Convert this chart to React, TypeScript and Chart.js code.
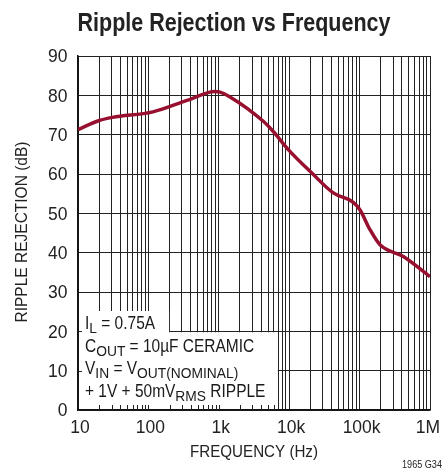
import React, { useEffect, useRef } from "react";
import { Chart, registerables } from "chart.js";

Chart.register(...registerables);

const freqs = [10, 20, 31, 116, 353, 883, 1040, 1443, 4290, 5940, 9710, 20800, 42300, 81300, 101000, 141000, 195000, 418000, 1000000];
const rejection = [71.3, 73.6, 74.4, 75.8, 78.7, 81.0, 80.8, 79.6, 73.4, 70.8, 66.2, 60.3, 55.2, 52.8, 50.9, 45.8, 42.0, 39.0, 33.9];
const xTickValues: number[] = [];
for (let d = 10; d < 1e6; d *= 10) for (let m = 1; m < 10; m++) xTickValues.push(d * m);
xTickValues.push(1e6);
const xTickLabels: Record<number, string> = { 10: "10", 100: "100", 1000: "1k", 10000: "10k", 100000: "100k", 1000000: "1M" };
const yTicks = [0, 10, 20, 30, 40, 50, 60, 70, 80, 90];

const FONT = "'Liberation Sans', Arial, sans-serif";
const TICK_SX = 0.92;
const NOTE_SX = 0.86;
const SUB_SX = 0.92;

type Part = [string, boolean];
const noteLines: Part[][] = [
  [["I", false], ["L", true], [" = 0.75A", false]],
  [["C", false], ["OUT", true], [" = 10µF CERAMIC", false]],
  [["V", false], ["IN", true], [" = V", false], ["OUT(NOMINAL)", true]],
  [["+ 1V + 50mV", false], ["RMS", true], [" RIPPLE", false]],
];

function narrowText(ctx: any, text: string, x: number, y: number, font: string, align: string, sx: number) {
  ctx.save();
  ctx.translate(x, y);
  ctx.scale(sx, 1);
  ctx.font = font;
  ctx.textAlign = align;
  ctx.fillText(text, 0, 0);
  ctx.restore();
}

function fitText(ctx: any, text: string, x: number, y: number, font: string, width: number) {
  ctx.save();
  ctx.font = font;
  const w = ctx.measureText(text).width;
  ctx.restore();
  narrowText(ctx, text, x, y, font, "center", width / w);
}

const decor = {
  id: "decor",
  beforeDatasetsDraw(chart: any) {
    const ctx = chart.ctx;
    const xs = chart.scales.x;
    const ys = chart.scales.y;
    const { left, bottom } = chart.chartArea;
    const x200 = xs.getPixelForValue(200);
    const x7k = xs.getPixelForValue(7000);
    const y20 = ys.getPixelForValue(20);
    const y10 = ys.getPixelForValue(10);
    ctx.save();
    ctx.fillStyle = "#fff";
    ctx.beginPath();
    ctx.moveTo(left + 1, 311);
    ctx.lineTo(x200 - 0.5, 311);
    ctx.lineTo(x200 - 0.5, y20 + 1);
    ctx.lineTo(x7k - 0.5, y20 + 1);
    ctx.lineTo(x7k - 0.5, bottom - 1);
    ctx.lineTo(left + 1, bottom - 1);
    ctx.closePath();
    ctx.fill();
    ctx.strokeStyle = "#222";
    ctx.lineWidth = 1;
    for (const v of xTickValues) {
      const px = Math.round(xs.getPixelForValue(v)) + 0.5;
      if (px > left + 2 && px < x7k - 1) {
        ctx.beginPath();
        ctx.moveTo(px, bottom);
        ctx.lineTo(px, bottom - 5);
        ctx.stroke();
      }
    }
    for (const yv of [y20, y10]) {
      const py = Math.round(yv) + 0.5;
      ctx.beginPath();
      ctx.moveTo(left, py);
      ctx.lineTo(left + 4, py);
      ctx.stroke();
    }
    ctx.fillStyle = "#1a1a1a";
    ctx.textBaseline = "alphabetic";
    const baselines = [329, 352, 374, 397];
    noteLines.forEach((parts, i) => {
      let x = 85;
      for (const [t, sub] of parts) {
        const font = sub ? `15px ${FONT}` : `18px ${FONT}`;
        const sx = sub ? SUB_SX : NOTE_SX;
        narrowText(ctx, t, x, baselines[i] + (sub ? 4 : 0), font, "left", sx);
        ctx.font = font;
        x += ctx.measureText(t).width * sx;
      }
    });
    ctx.restore();
  },
  afterDraw(chart: any) {
    const ctx = chart.ctx;
    const xs = chart.scales.x;
    const ys = chart.scales.y;
    ctx.save();
    ctx.fillStyle = "#222";
    ctx.textBaseline = "middle";
    for (const v of yTicks) {
      narrowText(ctx, String(v), 67.5, ys.getPixelForValue(v) + 1, `19px ${FONT}`, "right", TICK_SX);
    }
    for (const v of xTickValues) {
      const l = xTickLabels[v];
      if (!l) continue;
      const px = Math.min(xs.getPixelForValue(v) + 2, 428);
      narrowText(ctx, l, px, 428, `19px ${FONT}`, "center", TICK_SX);
    }
    fitText(ctx, "Ripple Rejection vs Frequency", 234, 24, `bold 26px ${FONT}`, 313);
    fitText(ctx, "FREQUENCY (Hz)", 254, 453, `16px ${FONT}`, 128);
    ctx.save();
    ctx.translate(23, 232);
    ctx.rotate(-Math.PI / 2);
    fitText(ctx, "RIPPLE REJECTION (dB)", 0, 0, `16px ${FONT}`, 181);
    ctx.restore();
    fitText(ctx, "1965 G34", 422, 465, `11px ${FONT}`, 40);
    ctx.restore();
  },
};

export default function App() {
  const ref = useRef<HTMLCanvasElement>(null);
  useEffect(() => {
    const chart = new Chart(ref.current!, {
      type: "line",
      data: {
        datasets: [
          {
            data: freqs.map((f, i) => ({ x: f, y: rejection[i] })),
            borderColor: "#98102f",
            borderWidth: 3.5,
            pointRadius: 0,
            cubicInterpolationMode: "monotone",
            fill: false,
          },
        ],
      },
      options: {
        responsive: false,
        animation: false,
        layout: { padding: { left: 0, right: 15, top: 56, bottom: 0 } },
        plugins: { legend: { display: false }, title: { display: false }, tooltip: { enabled: false } },
        scales: {
          x: {
            type: "logarithmic",
            min: 10,
            max: 1e6,
            afterBuildTicks: (s: any) => {
              s.ticks = xTickValues.map((v) => ({ value: v }));
            },
            afterFit: (s: any) => {
              s.height = 62;
            },
            ticks: { display: false, autoSkip: false },
            grid: { color: "#222", lineWidth: 1, drawTicks: false },
            border: { color: "#111", width: 1.5 },
          },
          y: {
            min: 0,
            max: 90,
            afterBuildTicks: (s: any) => {
              s.ticks = yTicks.map((v) => ({ value: v }));
            },
            afterFit: (s: any) => {
              s.width = 78;
            },
            ticks: { display: false },
            grid: { color: "#222", lineWidth: 1, drawTicks: false },
            border: { color: "#111", width: 1.5 },
          },
        },
      },
      plugins: [decor],
    } as any);
    return () => chart.destroy();
  }, []);
  return (
    <div style={{ position: "absolute", left: 0, top: 0, width: 445, height: 472, background: "#fff" }}>
      <canvas ref={ref} width={445} height={472} style={{ width: 445, height: 472 }} />
    </div>
  );
}
